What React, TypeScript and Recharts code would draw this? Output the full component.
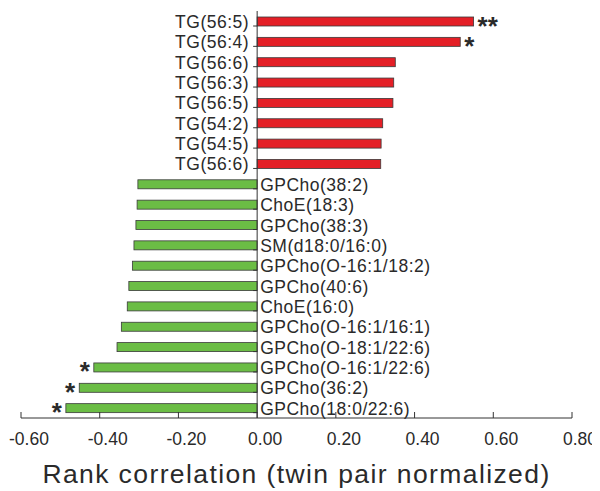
import { BarChart, Bar, XAxis, YAxis, ReferenceLine } from 'recharts';

// ============================================
// Lipid rank correlation (diverging bars)
// ============================================

const lipids = [
  'TG(56:5)', 'TG(56:4)', 'TG(56:6)', 'TG(56:3)', 'TG(56:5)', 'TG(54:2)', 'TG(54:5)', 'TG(56:6)',
  'GPCho(38:2)', 'ChoE(18:3)', 'GPCho(38:3)', 'SM(d18:0/16:0)', 'GPCho(O-16:1/18:2)', 'GPCho(40:6)',
  'ChoE(16:0)', 'GPCho(O-16:1/16:1)', 'GPCho(O-18:1/22:6)', 'GPCho(O-16:1/22:6)', 'GPCho(36:2)',
  'GPCho(18:0/22:6)',
];

const correlations = [
  0.55, 0.516, 0.351, 0.347, 0.345, 0.319, 0.315, 0.314,
  -0.303, -0.305, -0.308, -0.313, -0.317, -0.326, -0.33, -0.345, -0.356, -0.415, -0.452, -0.486,
];

const significance = ['**', '*', '', '', '', '', '', '', '', '', '', '', '', '', '', '', '', '*', '*', '*'];

const xTicks = [-0.6, -0.4, -0.2, 0, 0.2, 0.4, 0.6, 0.8];

const data = lipids.map((name, i) => ({ idx: i, name, r: correlations[i], sig: significance[i] }));

const FONT = '"Liberation Sans", Arial, sans-serif';

function LipidBar(props: any) {
  const { x, y, width, height, payload, background } = props;
  const left = Math.min(x, x + width);
  const right = Math.max(x, x + width);
  const positive = payload.r >= 0;
  const zero = positive ? left : right;
  const end = positive ? right : left;
  const cy = y + height / 2;
  const band = background && background.height ? background.height : 20.3;
  const tickY = cy + band / 2;
  return (
    <g>
      <rect
        x={left}
        y={y}
        width={right - left}
        height={height}
        fill={positive ? '#e41f26' : '#6bbd45'}
        stroke="#3a3a3a"
        strokeWidth={0.8}
      />
      <line x1={zero - 4} x2={zero} y1={tickY} y2={tickY} stroke="#333" strokeWidth={1} />
      <text
        x={positive ? zero - 8 : zero + 3}
        y={cy + 6.5}
        textAnchor={positive ? 'end' : 'start'}
        fontFamily={FONT}
        fontSize={17.5}
        letterSpacing={0.5}
        fill="#2a2a2a"
      >
        {payload.name}
      </text>
      {payload.sig && (
        <text
          x={positive ? end + 4 : end - 4}
          y={cy + 13}
          textAnchor={positive ? 'start' : 'end'}
          fontFamily={FONT}
          fontSize={26}
          fontWeight="bold"
          fill="#2a2a2a"
        >
          {payload.sig}
        </text>
      )}
    </g>
  );
}

function XTick(props: any) {
  const { x, y, payload } = props;
  return (
    <g>
      <line x1={x} x2={x} y1={y} y2={y - 6} stroke="#333" strokeWidth={1} />
      <text x={x + 8} y={y + 27} textAnchor="middle" fontFamily={FONT} fontSize={17.5} fill="#2a2a2a">
        {payload.value.toFixed(2)}
      </text>
    </g>
  );
}

export default function App() {
  return (
    <div style={{ width: 600, height: 491, margin: '-8px 0 0 -8px', background: '#fff' }}>
      <BarChart
        width={600}
        height={491}
        data={data}
        layout="vertical"
        margin={{ top: 11, right: 28, left: 21, bottom: 0 }}
        barCategoryGap={0}
      >
        <XAxis
          type="number"
          domain={[-0.6, 0.8]}
          ticks={xTicks}
          interval={0}
          allowDataOverflow
          height={73}
          tickSize={0}
          tickMargin={0}
          tick={<XTick />}
          axisLine={{ stroke: '#333', strokeWidth: 1 }}
          label={{
            value: 'Rank correlation (twin pair normalized)',
            position: 'insideBottom',
            offset: 8,
            fontSize: 26.5,
            letterSpacing: 1.4,
            fontFamily: FONT,
            fill: '#2a2a2a',
          }}
        />
        <YAxis type="category" dataKey="idx" hide />
        <ReferenceLine x={0} stroke="#333" strokeWidth={1} ifOverflow="extendDomain" />
        <Bar dataKey="r" barSize={9} shape={<LipidBar />} isAnimationActive={false} />
      </BarChart>
    </div>
  );
}
